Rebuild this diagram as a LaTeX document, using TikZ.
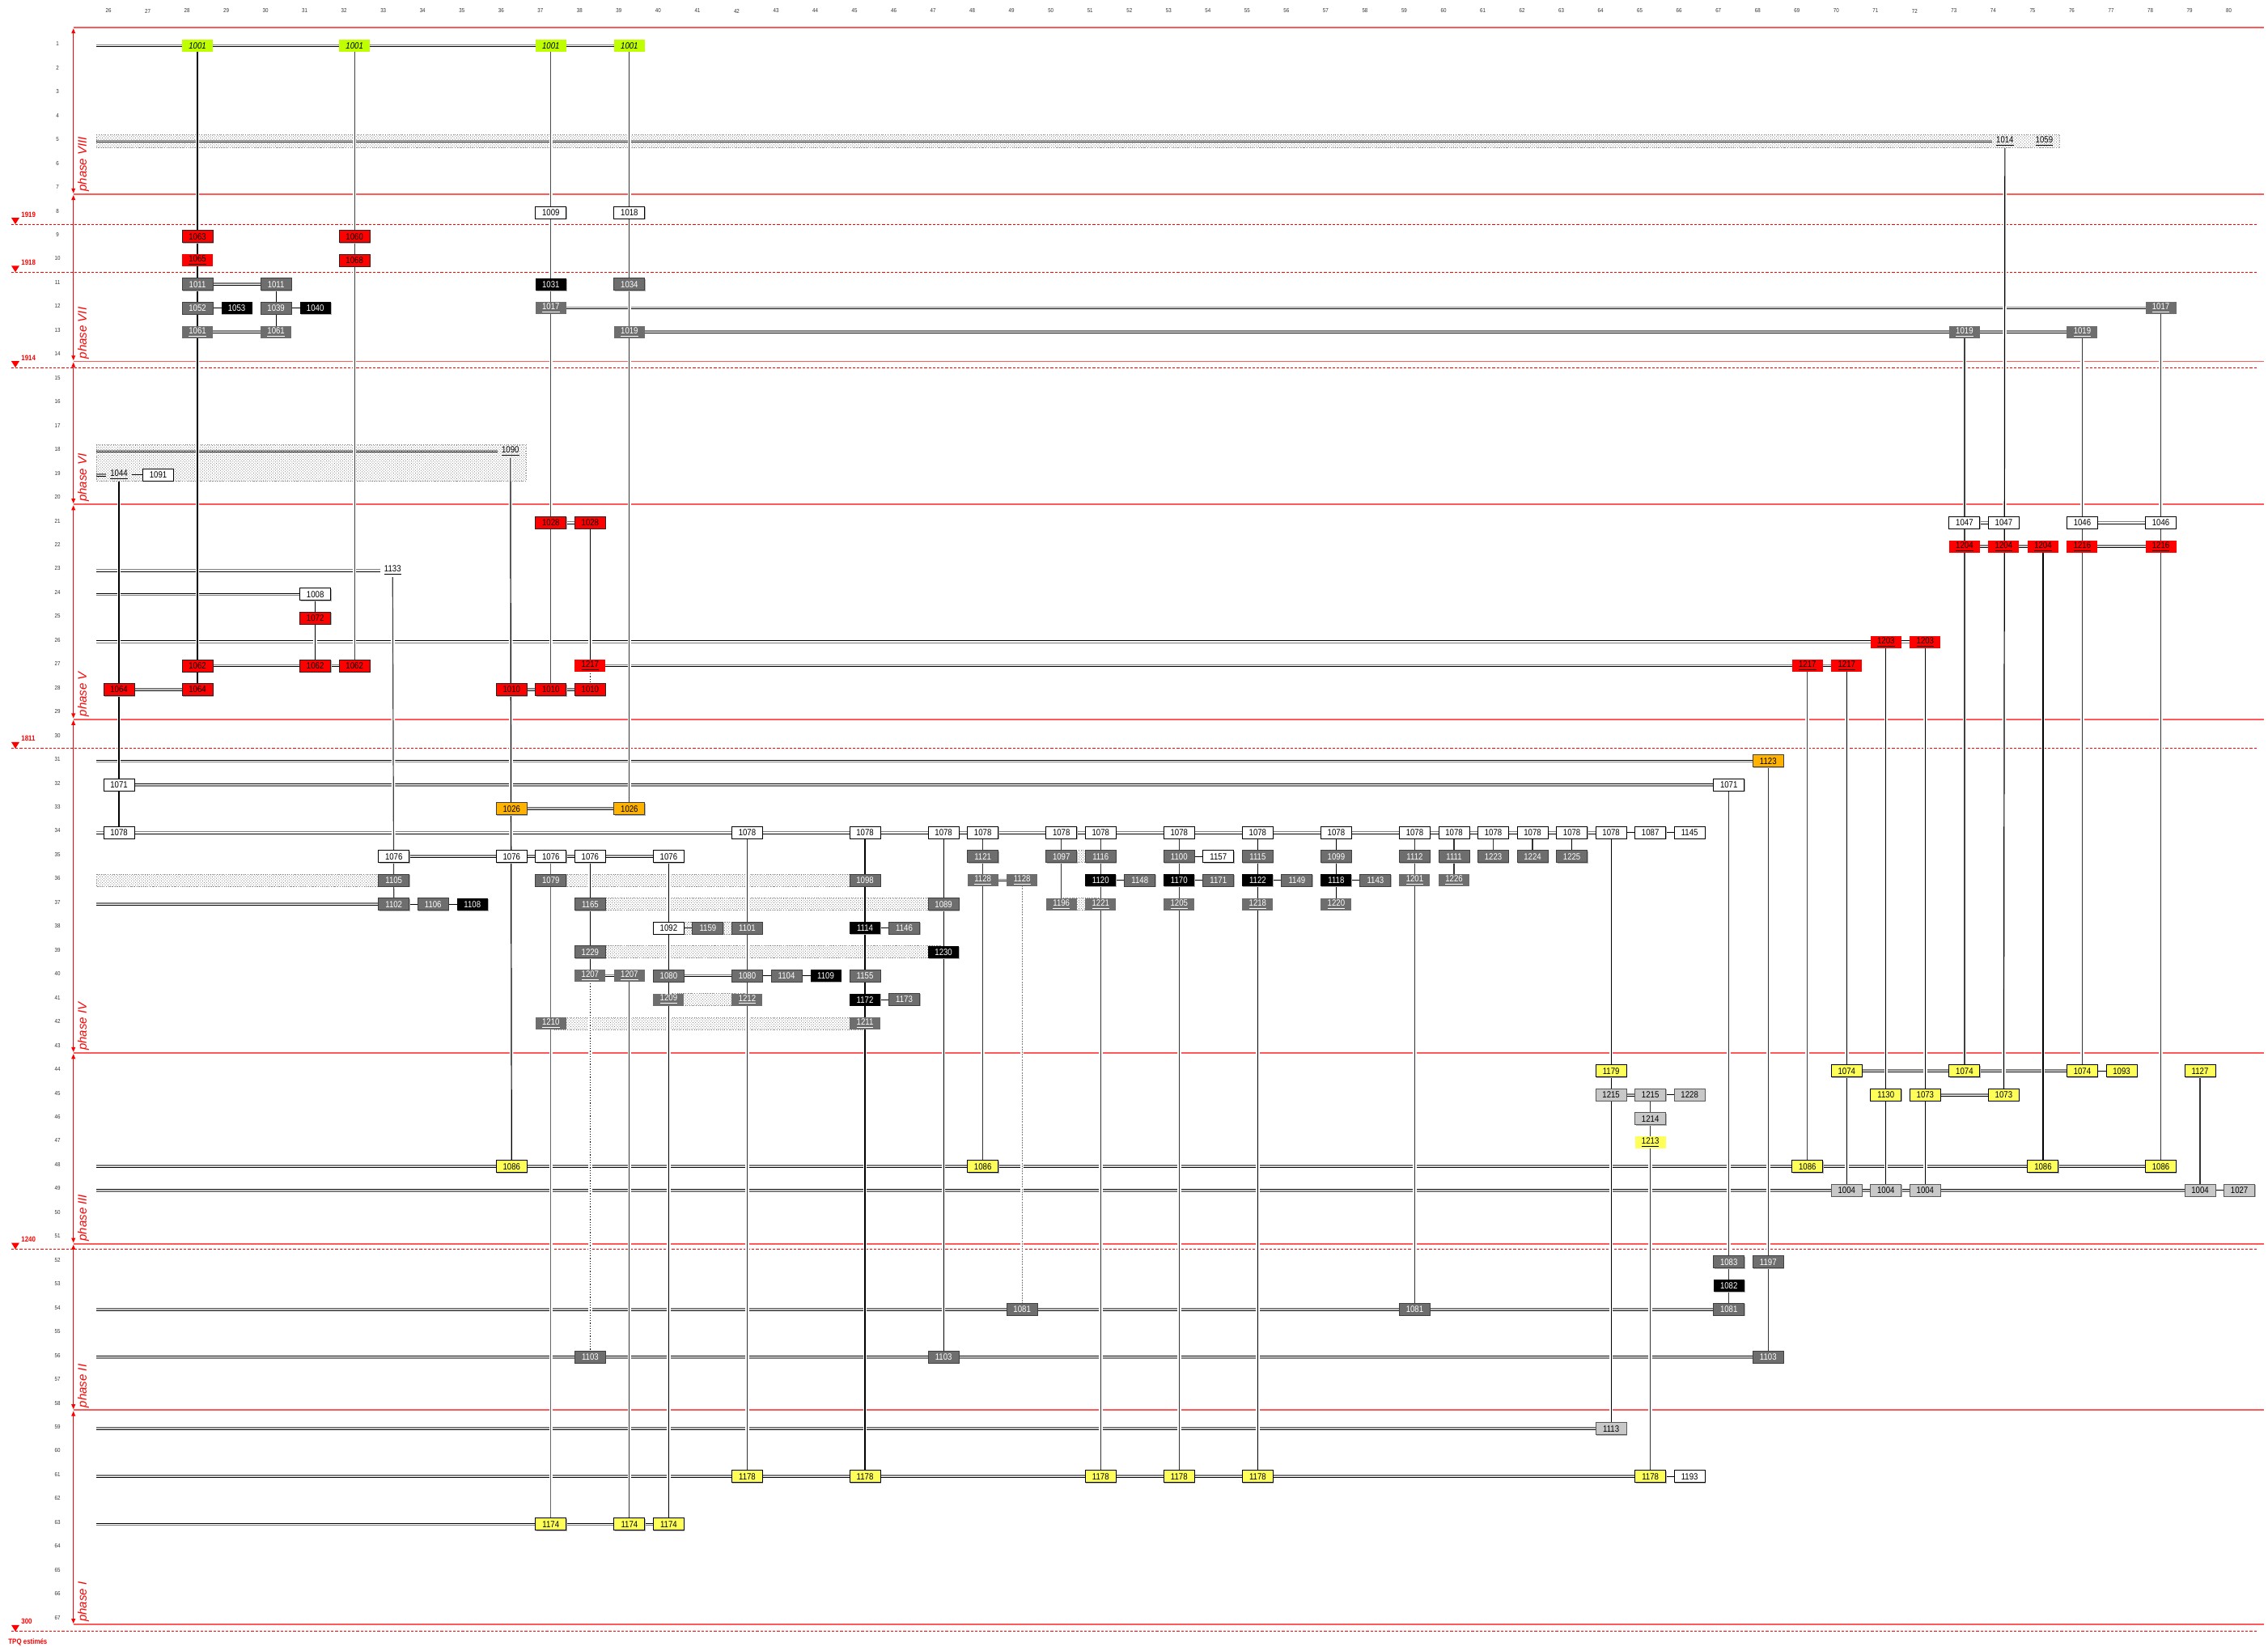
\documentclass[tikz,border=0pt]{standalone}
\usepackage{fontspec}
\setmainfont{Liberation Sans}
\newfontfamily\narrowf[FakeStretch=0.86]{Liberation Sans}
\usetikzlibrary{arrows.meta,patterns.meta,shadows}
\definecolor{limebx}{HTML}{BFFF00}
\definecolor{gbox}{HTML}{6E6E6E}
\definecolor{lbox}{HTML}{C8C8C8}
\definecolor{ybox}{HTML}{FFFF5A}
\definecolor{obox}{HTML}{FFB300}
\definecolor{phred}{HTML}{FF5A5A}
\newcommand\bxfont{\narrowf\fontsize{5.6}{6}\selectfont}
\newcommand\Bx[4]{\node[#1] (r#2c#3) at (#3,#2) {#4};}
\newcommand\Bu[4]{\node[#1] (r#2c#3) at (#3,#2) {\underline{#4}};}
\newcommand\Dl[2]{\draw[hgr] ([yshift=0.6pt]#1) -- ([yshift=0.6pt]#2); \draw[hbk] ([yshift=-0.6pt]#1) -- ([yshift=-0.6pt]#2);}
\newcommand\Dr[2]{\draw[hbk] ([yshift=0.6pt]#1) -- ([yshift=0.6pt]#2); \draw[hgr] ([yshift=-0.6pt]#1) -- ([yshift=-0.6pt]#2);}
\newcommand\Sl[2]{\draw[sline] (#1) -- (#2);}
\newcommand\Vl[3][]{\draw[vline,#1] (#2) -- (#3);}
\pgfdeclarelayer{back}
\pgfdeclarelayer{mid}
\pgfsetlayers{back,mid,main}
\tikzset{
 boxbase/.style={rectangle, minimum width=19pt, minimum height=7.5pt, inner sep=0pt, font=\bxfont},
 shd/.style={drop shadow={shadow xshift=0.45pt, shadow yshift=-0.45pt, fill=black!30, opacity=1}},
 boxW/.style={boxbase, shd, fill=white, draw=black, line width=0.5pt},
 boxR/.style={boxbase, shd, fill=red, draw=black!85, line width=0.5pt},
 boxRu/.style={boxbase, fill=red},
 boxG/.style={boxbase, shd, fill=gbox, draw=black!75, line width=0.5pt, text=white},
 boxGu/.style={boxbase, fill=gbox, text=white},
 boxK/.style={boxbase, shd, fill=black, text=white},
 boxO/.style={boxbase, shd, fill=obox, draw=black!75, line width=0.5pt},
 boxY/.style={boxbase, shd, fill=ybox, draw=black, line width=0.5pt},
 boxYu/.style={boxbase, fill=ybox},
 boxL/.style={boxbase, shd, fill=lbox, draw=black!65, line width=0.5pt},
 boxLime/.style={boxbase, fill=limebx, font=\bxfont\itshape},
 txtonly/.style={inner xsep=2.5pt, inner ysep=1pt, font=\bxfont},
 hgr/.style={draw=black!50, line width=0.8pt},
 hbk/.style={draw=black, line width=0.5pt},
 sline/.style={draw=black, line width=0.5pt},
 vline/.style={draw=black, line width=0.6pt, preaction={draw=white, line width=2.3pt}},
 band/.style={pattern={Lines[angle=45,distance=1.2pt,line width=0.35pt]}, pattern color=black!60, draw=black!50, densely dotted, line width=0.35pt},
 phline/.style={draw=phred, line width=0.9pt},
 dtline/.style={draw=red, line width=0.55pt, dash pattern=on 1.6pt off 1pt},
 pharrow/.style={draw=red, line width=0.5pt, {Triangle[length=3pt,width=2.4pt]}-{Triangle[length=3pt,width=2.4pt]}},
 phasef/.style={text=red, font=\fontsize{7.5}{8}\selectfont\itshape, inner sep=0pt},
 datef/.style={text=red, font=\narrowf\bfseries\fontsize{4.6}{5}\selectfont, inner sep=0pt},
 axlab/.style={text=black!80, font=\narrowf\fontsize{3.6}{4}\selectfont, inner sep=0pt},
}
\begin{document}
\begin{tikzpicture}[x=24.265pt, y=-14.73pt]
\useasboundingbox (22.971,-0.925) rectangle (80.73,68.15);
% ---------- axis labels
\foreach \c in {26,...,80} {\node[axlab] at (\c-0.268,-0.466) {\c};}
\foreach \r in {1,...,67} {\node[axlab] at (24.434,\r-0.08) {\r};}
% ---------- phase labels
\foreach \b/\t in {7.12/phase VIII,14.13/phase VII,20.13/phase VI,29.14/phase V,43.14/phase IV,51.14/phase III,58.12/phase II,67.11/phase I}
  {\node[phasef, rotate=90, anchor=west] at (25.093,\b) {\t};}
% ---------- date labels
\foreach \d/\t in {8.48/1919,10.49/1918,14.49/1914,30.47/1811,51.47/1240,67.5/300}
 {\fill[red] (23.259,\d-0.2716) -- (23.465,\d-0.2716) -- (23.362,\d) -- cycle;
  \node[datef, anchor=west] at (23.507,\d-0.41) {\t};}
\node[datef, anchor=west] (tpq) at (23.177,67.95) {TPQ estimés};
% ---------- coordinates (free ends)
\foreach \r in {1,5,18,19,23,24,26,31,34,37,48,49,54,56,59,61,63} {\coordinate (L\r) at (25.423,\r);}
% ---------- nodes: phase VIII
\Bx{boxLime}{1}{28}{1001} \Bx{boxLime}{1}{32}{1001} \Bx{boxLime}{1}{37}{1001} \Bx{boxLime}{1}{39}{1001}
\node[txtonly] (r5c74) at (74.03,5) {\underline{1014}};
\node[txtonly] (r5c75) at (75.03,5) {\underline{1059}};
% phase VII
\Bx{boxW}{8}{37}{1009} \Bx{boxW}{8}{39}{1018}
\Bx{boxR}{9}{28}{1063} \Bx{boxR}{9}{32}{1060}
\Bu{boxRu}{10}{28}{1065} \Bx{boxR}{10}{32}{1068}
\Bx{boxG}{11}{28}{1011} \Bx{boxG}{11}{30}{1011} \Bx{boxK}{11}{37}{1031} \Bx{boxG}{11}{39}{1034}
\Bx{boxG}{12}{28}{1052} \Bx{boxK}{12}{29}{1053} \Bx{boxG}{12}{30}{1039} \Bx{boxK}{12}{31}{1040}
\Bu{boxGu}{12}{37}{1017} \Bu{boxGu}{12}{78}{1017}
\Bu{boxGu}{13}{28}{1061} \Bu{boxGu}{13}{30}{1061} \Bu{boxGu}{13}{39}{1019} \Bu{boxGu}{13}{73}{1019} \Bu{boxGu}{13}{76}{1019}
% phase VI
\node[txtonly] (r18c36) at (35.97,18) {\underline{1090}};
\node[txtonly] (r19c26) at (26,19) {\underline{1044}};
\Bx{boxW}{19}{27}{1091}
% phase V
\Bx{boxR}{21}{37}{1028} \Bx{boxR}{21}{38}{1028}
\Bx{boxW}{21}{73}{1047} \Bx{boxW}{21}{74}{1047} \Bx{boxW}{21}{76}{1046} \Bx{boxW}{21}{78}{1046}
\Bu{boxRu}{22}{73}{1204} \Bu{boxRu}{22}{74}{1204} \Bu{boxRu}{22}{75}{1204} \Bu{boxRu}{22}{76}{1216} \Bu{boxRu}{22}{78}{1216}
\node[txtonly] (r23c33) at (32.97,23) {\underline{1133}};
\Bx{boxW}{24}{31}{1008}
\Bx{boxR}{25}{31}{1072}
\Bu{boxRu}{26}{71}{1203} \Bu{boxRu}{26}{72}{1203}
\Bx{boxR}{27}{28}{1062} \Bx{boxR}{27}{31}{1062} \Bx{boxR}{27}{32}{1062}
\Bu{boxRu}{27}{38}{1217} \Bu{boxRu}{27}{69}{1217} \Bu{boxRu}{27}{70}{1217}
\Bx{boxR}{28}{26}{1064} \Bx{boxR}{28}{28}{1064} \Bx{boxR}{28}{36}{1010} \Bx{boxR}{28}{37}{1010} \Bx{boxR}{28}{38}{1010}
% phase IV
\Bx{boxO}{31}{68}{1123}
\Bx{boxW}{32}{26}{1071} \Bx{boxW}{32}{67}{1071}
\Bx{boxO}{33}{36}{1026} \Bx{boxO}{33}{39}{1026}
\foreach \c in {26,42,45,47,48,50,51,53,55,57,59,60,61,62,63,64} {\Bx{boxW}{34}{\c}{1078}}
\Bx{boxW}{34}{65}{1087} \Bx{boxW}{34}{66}{1145}
\foreach \c in {33,36,37,38,40} {\Bx{boxW}{35}{\c}{1076}}
\Bx{boxG}{35}{48}{1121} \Bx{boxG}{35}{50}{1097} \Bx{boxG}{35}{51}{1116} \Bx{boxG}{35}{53}{1100} \Bx{boxW}{35}{54}{1157}
\Bx{boxG}{35}{55}{1115} \Bx{boxG}{35}{57}{1099} \Bx{boxG}{35}{59}{1112} \Bx{boxG}{35}{60}{1111}
\Bx{boxG}{35}{61}{1223} \Bx{boxG}{35}{62}{1224} \Bx{boxG}{35}{63}{1225}
\Bx{boxG}{36}{33}{1105} \Bx{boxG}{36}{37}{1079} \Bx{boxG}{36}{45}{1098} \Bu{boxGu}{36}{48}{1128} \Bu{boxGu}{36}{49}{1128}
\Bx{boxK}{36}{51}{1120} \Bx{boxG}{36}{52}{1148} \Bx{boxK}{36}{53}{1170} \Bx{boxG}{36}{54}{1171}
\Bx{boxK}{36}{55}{1122} \Bx{boxG}{36}{56}{1149} \Bx{boxK}{36}{57}{1118} \Bx{boxG}{36}{58}{1143}
\Bu{boxGu}{36}{59}{1201} \Bu{boxGu}{36}{60}{1226}
\Bx{boxG}{37}{33}{1102} \Bx{boxG}{37}{34}{1106} \Bx{boxK}{37}{35}{1108} \Bx{boxG}{37}{38}{1165} \Bx{boxG}{37}{47}{1089}
\Bu{boxGu}{37}{50}{1196} \Bu{boxGu}{37}{51}{1221} \Bu{boxGu}{37}{53}{1205} \Bu{boxGu}{37}{55}{1218} \Bu{boxGu}{37}{57}{1220}
\Bx{boxW}{38}{40}{1092} \Bx{boxG}{38}{41}{1159} \Bx{boxG}{38}{42}{1101} \Bx{boxK}{38}{45}{1114} \Bx{boxG}{38}{46}{1146}
\Bx{boxG}{39}{38}{1229} \Bx{boxK}{39}{47}{1230}
\Bu{boxGu}{40}{38}{1207} \Bu{boxGu}{40}{39}{1207} \Bx{boxG}{40}{40}{1080} \Bx{boxG}{40}{42}{1080}
\Bx{boxG}{40}{43}{1104} \Bx{boxK}{40}{44}{1109} \Bx{boxG}{40}{45}{1155}
\Bu{boxGu}{41}{40}{1209} \Bu{boxGu}{41}{42}{1212} \Bx{boxK}{41}{45}{1172} \Bx{boxG}{41}{46}{1173}
\Bu{boxGu}{42}{37}{1210} \Bu{boxGu}{42}{45}{1211}
% phase III
\Bx{boxY}{44}{64}{1179} \Bx{boxY}{44}{70}{1074} \Bx{boxY}{44}{73}{1074} \Bx{boxY}{44}{76}{1074} \Bx{boxY}{44}{77}{1093} \Bx{boxY}{44}{79}{1127}
\Bx{boxL}{45}{64}{1215} \Bx{boxL}{45}{65}{1215} \Bx{boxL}{45}{66}{1228} \Bx{boxY}{45}{71}{1130} \Bx{boxY}{45}{72}{1073} \Bx{boxY}{45}{74}{1073}
\Bx{boxL}{46}{65}{1214}
\Bu{boxYu}{47}{65}{1213}
\foreach \c in {36,48,69,75,78} {\Bx{boxY}{48}{\c}{1086}}
\foreach \c in {70,71,72,79} {\Bx{boxL}{49}{\c}{1004}}
\Bx{boxL}{49}{80}{1027}
% phase II
\Bx{boxG}{52}{67}{1083} \Bx{boxG}{52}{68}{1197}
\Bx{boxK}{53}{67}{1082}
\foreach \c in {49,59,67} {\Bx{boxG}{54}{\c}{1081}}
\foreach \c in {38,47,68} {\Bx{boxG}{56}{\c}{1103}}
% phase I
\Bx{boxL}{59}{64}{1113}
\foreach \c in {42,45,51,53,55,65} {\Bx{boxY}{61}{\c}{1178}}
\Bx{boxW}{61}{66}{1193}
\foreach \c in {37,39,40} {\Bx{boxY}{63}{\c}{1174}}
% ================= background layer
\begin{pgfonlayer}{back}
\fill[white] (22.971,-0.925) rectangle (80.73,68.15);
\foreach \b in {0.23,7.22,14.23,20.23,29.24,43.24,51.24,58.22,67.21} {\draw[phline] (24.84,\b) -- (80.63,\b);}
\foreach \a/\b in {0.23/7.22,7.22/14.23,14.23/20.23,20.23/29.24,29.24/43.24,43.24/51.24,51.24/58.22,58.22/67.21}
  {\draw[pharrow] (24.84,\a+0.04) -- (24.84,\b-0.04);}
\foreach \d in {8.48,10.49,14.49,30.47,51.47,67.5} {\draw[dtline] (23.26,\d) -- (80.44,\d);}
% hatched bands
\path[band] (25.423,4.72) rectangle (75.43,5.26);
\path[band] (25.423,17.72) rectangle (36.37,19.25);
\path[band] (25.423,35.745) rectangle (33,36.255);
\path[band] (37,35.745) rectangle (45,36.255);
\path[band] (38,36.745) rectangle (47,37.255);
\path[band] (40,37.745) rectangle (42,38.255);
\path[band] (38,38.745) rectangle (47,39.255);
\path[band] (40,40.745) rectangle (42,41.255);
\path[band] (37,41.745) rectangle (45,42.255);
\path[band] (50,34.745) rectangle (51,35.255);
\path[band] (50,36.745) rectangle (51,37.255);
% double horizontal lines
\Dl{L1}{r1c39.center}
\Dl{L5}{r5c74.west}
\Dl{r11c28.center}{r11c30.center}
\Dl{r12c37.center}{r12c78.center}
\Dl{r13c28.center}{r13c30.center}
\Dl{r13c39.center}{r13c76.center}
\Dl{L18}{r18c36.west}
\Dl{L19}{r19c26.west}
\Dl{r21c37.center}{r21c38.center}
\Dl{r21c73.center}{r21c74.center}
\Dl{r21c76.center}{r21c78.center}
\Dl{r22c73.center}{r22c75.center}
\Dl{r22c76.center}{r22c78.center}
\Dl{L23}{r23c33.west}
\Dr{L24}{r24c31.center}
\Dr{L26}{r26c72.center}
\Dl{r27c28.center}{r27c32.center}
\Dl{r27c38.center}{r27c70.center}
\Dl{r28c26.center}{r28c28.center}
\Dl{r28c36.center}{r28c38.center}
\Dr{L31}{r31c68.center}
\Dr{r32c26.center}{r32c67.center}
\Dl{r33c36.center}{r33c39.center}
\Dl{L34}{r34c64.center}
\Dl{r35c33.center}{r35c40.center}
\Dl{r36c48.center}{r36c49.center}
\Dl{L37}{r37c33.center}
\Dl{r40c38.center}{r40c39.center}
\Dl{r40c40.center}{r40c42.center}
\Dl{r44c70.center}{r44c76.center}
\Dl{r45c64.center}{r45c65.center}
\Dl{r45c72.center}{r45c74.center}
\Dl{L48}{r48c78.center}
\Dr{L49}{r49c79.center}
\Dl{L54}{r54c67.center}
\Dr{L56}{r56c68.center}
\Dl{L59}{r59c64.center}
\Dl{L61}{r61c65.center}
\Dr{L63}{r63c40.center}
% single connectors
\Sl{r12c28.center}{r12c29.center}
\Sl{r12c30.center}{r12c31.center}
\Sl{r19c26.east}{r19c27.center}
\Sl{r34c64.center}{r34c66.center}
\Sl{r35c53.center}{r35c54.center}
\Sl{r36c51.center}{r36c52.center}
\Sl{r36c53.center}{r36c54.center}
\Sl{r36c55.center}{r36c56.center}
\Sl{r36c57.center}{r36c58.center}
\Sl{r37c33.center}{r37c35.center}
\Sl{r38c40.center}{r38c41.center}
\Sl{r38c45.center}{r38c46.center}
\Sl{r40c42.center}{r40c44.center}
\Sl{r41c45.center}{r41c46.center}
\Sl{r44c76.center}{r44c77.center}
\Sl{r45c65.center}{r45c66.center}
\Sl{r49c79.center}{r49c80.center}
\Sl{r61c65.center}{r61c66.center}
\end{pgfonlayer}
% ================= vertical connectors
\begin{pgfonlayer}{mid}
\Vl{r1c28.center}{r28c28.center}
\Vl[black!75]{r1c32.center}{r27c32.center}
\Vl[black!70]{r1c37.center}{r28c37.center}
\Vl[black!80]{r1c39.center}{r33c39.center}
\Vl{r11c30.center}{r13c30.center}
\Vl{r5c74.south}{r45c74.center}
\Vl{r18c36.south}{r48c36.center}
\Vl{r19c26.south}{r34c26.center}
\Vl{r21c38.center}{r27c38.center}
\Vl[densely dotted]{r27c38.center}{r28c38.center}
\Vl[black!75]{r23c33.south}{r37c33.center}
\Vl{r24c31.center}{r27c31.center}
\Vl[black!75]{r27c69.center}{r48c69.center}
\Vl{r27c70.center}{r49c70.center}
\Vl{r26c71.center}{r49c71.center}
\Vl{r26c72.center}{r49c72.center}
\Vl[black!75]{r13c73.center}{r44c73.center}
\Vl{r22c75.center}{r48c75.center}
\Vl[black!80]{r13c76.center}{r44c76.center}
\Vl[black!80]{r12c78.center}{r48c78.center}
\Vl[black!80]{r44c79.center}{r49c79.center}
\Vl[black!80]{r32c67.center}{r54c67.center}
\Vl[black!80]{r31c68.center}{r56c68.center}
\Vl[black!60]{r35c37.center}{r63c37.center}
\Vl{r35c38.center}{r40c38.center}
\Vl[densely dotted]{r40c38.center}{r56c38.center}
\Vl[black!80]{r40c39.center}{r63c39.center}
\Vl{r35c40.center}{r63c40.center}
\Vl[black!80]{r34c42.center}{r61c42.center}
\Vl{r34c45.center}{r61c45.center}
\Vl{r34c47.center}{r56c47.center}
\Vl[black!80]{r34c48.center}{r48c48.center}
\Vl[black!50, line width=0.35pt, dash pattern=on 1pt off 0.6pt]{r36c49.center}{r54c49.center}
\Vl[black!80]{r34c50.center}{r37c50.center}
\Vl[black!80]{r34c51.center}{r61c51.center}
\Vl[black!80]{r34c53.center}{r61c53.center}
\Vl{r34c55.center}{r61c55.center}
\Vl{r34c57.center}{r37c57.center}
\Vl[black!80]{r34c59.center}{r54c59.center}
\Vl[black!80]{r34c60.center}{r36c60.center}
\Vl[black!80]{r34c61.center}{r35c61.center}
\Vl[black!80]{r34c62.center}{r35c62.center}
\Vl{r34c63.center}{r35c63.center}
\Vl{r34c64.center}{r59c64.center}
\Vl[black!80]{r45c65.center}{r61c65.center}
\end{pgfonlayer}
\end{tikzpicture}
\end{document}
